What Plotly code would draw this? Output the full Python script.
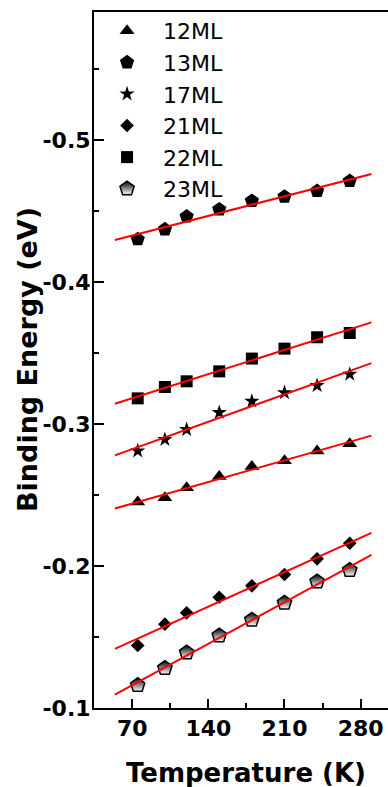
import numpy as np
import plotly.graph_objects as go

# ---- data ----
temperature = [75, 100, 120, 150, 180, 210, 240, 270]
be_12ml = [-0.245, -0.248, -0.255, -0.263, -0.270, -0.274, -0.281, -0.286]
be_13ml = [-0.430, -0.437, -0.446, -0.451, -0.457, -0.460, -0.464, -0.471]
be_17ml = [-0.281, -0.289, -0.296, -0.308, -0.316, -0.322, -0.327, -0.335]
be_21ml = [-0.144, -0.159, -0.167, -0.178, -0.186, -0.194, -0.205, -0.216]
be_22ml = [-0.318, -0.326, -0.330, -0.337, -0.346, -0.353, -0.361, -0.364]
be_23ml = [-0.116, -0.128, -0.139, -0.151, -0.162, -0.174, -0.189, -0.197]
series_names = ["12ML", "13ML", "17ML", "21ML", "22ML", "23ML"]
fit_range = [54, 290]

x_tickvals = [70, 140, 210, 280]
x_ticktext = ["70", "140", "210", "280"]
y_tickvals = [-0.1, -0.2, -0.3, -0.4, -0.5]
y_ticktext = ["-0.1", "-0.2", "-0.3", "-0.4", "-0.5"]

series_values = [be_12ml, be_13ml, be_17ml, be_21ml, be_22ml, be_23ml]

# ---- styles ----
marker_styles = [
    dict(symbol="triangle-up", size=13, color="black"),
    dict(symbol="pentagon", size=15, color="black"),
    dict(symbol="star", size=11.5, color="black"),
    dict(symbol="diamond", size=10.5, color="black"),
    dict(symbol="square", size=12, color="black"),
    dict(symbol="pentagon", size=15, color="black",
         gradient=dict(type="vertical", color="white"),
         line=dict(color="black", width=1.5)),
]

fig = go.Figure()
for name, vals, mst in zip(series_names, series_values, marker_styles):
    fig.add_trace(go.Scatter(x=temperature, y=vals, mode="markers", name=name,
                             marker=mst))

fx = np.array(fit_range, dtype=float)
for name, vals in zip(series_names, series_values):
    slope, icpt = np.polyfit(temperature, vals, 1)
    fig.add_trace(go.Scatter(x=fx, y=slope * fx + icpt, mode="lines",
                             line=dict(color="red", width=2),
                             showlegend=False, hoverinfo="skip"))

tick_font = dict(family="DejaVu Sans", size=22, color="black", weight="bold")
xtitle_font = dict(family="DejaVu Sans", size=26, color="black", weight="bold")
ytitle_font = dict(family="DejaVu Sans", size=27, color="black", weight="bold")

fig.update_layout(
    width=388, height=787,
    margin=dict(l=94, r=0, t=12, b=79),
    paper_bgcolor="white", plot_bgcolor="white",
    font=dict(family="Liberation Sans", color="black"),
    showlegend=True,
    legend=dict(x=-0.01, y=1.003, xanchor="left", yanchor="top",
                bgcolor="rgba(0,0,0,0)", itemwidth=62,
                font=dict(family="DejaVu Sans", size=22, color="black"),
                tracegroupgap=0),
    xaxis=dict(range=[34.8, 305.2], showline=True, linecolor="black", linewidth=2,
               mirror=True, showgrid=False, zeroline=False,
               tickvals=x_tickvals, ticktext=x_ticktext,
               ticks="inside", ticklen=9, tickwidth=2, tickcolor="black",
               minor=dict(ticks="inside", ticklen=5, tickwidth=2, tickcolor="black",
                          tickvals=[105, 175, 245]),
               tickfont=tick_font),
    yaxis=dict(range=[-0.1, -0.590], showline=True, linecolor="black", linewidth=2,
               showgrid=False, zeroline=False,
               tickvals=y_tickvals, ticktext=y_ticktext,
               ticks="inside", ticklen=10, tickwidth=2, tickcolor="black",
               ticklabelstandoff=-3,
               minor=dict(ticks="inside", ticklen=5, tickwidth=2, tickcolor="black",
                          tickvals=[-0.15, -0.25, -0.35, -0.45, -0.55]),
               tickfont=tick_font),
    annotations=[
        dict(text="Temperature (K)", xref="paper", yref="paper", x=0.518, y=0,
             yshift=-65, xanchor="center", yanchor="middle", showarrow=False,
             font=xtitle_font),
        dict(text="Binding Energy (eV)", xref="paper", yref="paper", x=0, y=0.5,
             xshift=-67, xanchor="center", yanchor="middle", textangle=-90,
             showarrow=False, font=ytitle_font),
    ],
)

fig.write_html(
    "out.html",
    config={"displayModeBar": False},
    post_script="document.body.style.margin='0px';document.body.style.overflow='hidden';",
)
